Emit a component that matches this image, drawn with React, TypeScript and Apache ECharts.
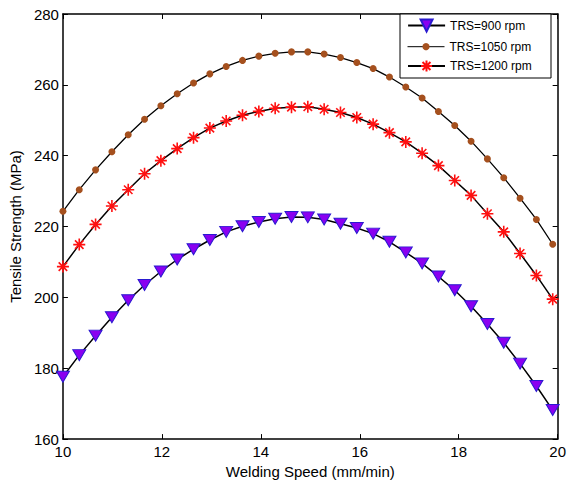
import React, { useEffect, useRef } from "react";
import * as echarts from "echarts";

const speeds = [10, 10.33, 10.66, 10.99, 11.32, 11.65, 11.98, 12.31, 12.64, 12.97, 13.3, 13.63, 13.96, 14.29, 14.62, 14.95, 15.28, 15.61, 15.94, 16.27, 16.6, 16.93, 17.26, 17.59, 17.92, 18.25, 18.58, 18.91, 19.24, 19.57, 19.9];

const trs900 = [177.6, 183.7, 189.2, 194.4, 199.2, 203.5, 207.3, 210.7, 213.6, 216.2, 218.5, 220.1, 221.3, 222.2, 222.7, 222.6, 222.0, 220.8, 219.6, 218.0, 215.7, 212.7, 209.6, 205.9, 202.0, 197.5, 192.5, 187.2, 181.3, 175.0, 168.2];
const trs1050 = [224.3, 230.4, 236.0, 241.1, 245.9, 250.3, 254.1, 257.5, 260.5, 263.1, 265.2, 266.9, 268.1, 268.9, 269.3, 269.3, 268.7, 267.7, 266.3, 264.6, 262.2, 259.4, 256.3, 252.5, 248.5, 244.1, 239.1, 233.8, 228.0, 222.0, 215.0];
const trs1200 = [208.7, 214.9, 220.6, 225.8, 230.4, 234.9, 238.6, 242.0, 245.1, 247.8, 249.8, 251.4, 252.5, 253.4, 253.7, 253.8, 253.1, 252.2, 250.8, 248.9, 246.5, 243.9, 240.7, 237.2, 233.0, 228.8, 223.6, 218.5, 212.4, 206.2, 199.5];

const seriesNames = ["TRS=900 rpm", "TRS=1050 rpm", "TRS=1200 rpm"];
const xTitle = "Welding Speed (mm/min)";
const yTitle = "Tensile Strength (MPa)";

const FONT = '"Liberation Sans", Arial, sans-serif';
const ASTERISK = "path://M0,-10L0,10M-10,0L10,0M-7.07,-7.07L7.07,7.07M-7.07,7.07L7.07,-7.07";

function pairs(vals: number[]) {
  return speeds.map((x, i) => [x, vals[i]]);
}

export default function App() {
  const ref = useRef<HTMLDivElement>(null);
  useEffect(() => {
    if (!ref.current) return;
    const chart = echarts.init(ref.current, undefined, { renderer: "svg" });
    const axisCommon = {
      type: "value" as const,
      axisLine: { show: true, lineStyle: { color: "#000", width: 1.5 } },
      axisTick: { show: true, inside: true, length: 5, lineStyle: { color: "#000", width: 1 } },
      splitLine: { show: false },
    };
    const legendCommon = {
      orient: "horizontal" as const,
      padding: 0,
      itemWidth: 37,
      itemGap: 0,
      textStyle: { fontSize: 12, fontFamily: FONT, color: "#000", lineHeight: 14 },
    };
    chart.setOption({
      animation: false,
      backgroundColor: "#fff",
      grid: { left: 57, right: 10, top: 14, bottom: 42, containLabel: false },
      xAxis: [
        {
          ...axisCommon,
          min: 10,
          max: 20,
          interval: 2,
          position: "bottom",
          name: xTitle,
          nameLocation: "middle",
          nameGap: 23,
          nameTextStyle: { fontSize: 15, fontFamily: FONT, color: "#000" },
          axisLabel: { fontSize: 15, fontFamily: FONT, color: "#000", margin: 5 },
        },
        {
          ...axisCommon,
          min: 10,
          max: 20,
          interval: 2,
          position: "top",
          axisLabel: { show: false },
        },
      ],
      yAxis: [
        {
          ...axisCommon,
          min: 160,
          max: 280,
          interval: 20,
          position: "left",
          name: yTitle,
          nameLocation: "middle",
          nameGap: 34,
          nameTextStyle: { fontSize: 15, fontFamily: FONT, color: "#000" },
          axisLabel: { fontSize: 15, fontFamily: FONT, color: "#000", margin: 4 },
        },
        {
          ...axisCommon,
          min: 160,
          max: 280,
          interval: 20,
          position: "right",
          axisLabel: { show: false },
        },
      ],
      graphic: [
        {
          type: "rect",
          shape: { x: 400, y: 14, width: 151, height: 64 },
          style: { fill: "#fff", stroke: "#000", lineWidth: 1 },
          z: 10,
        },
      ],
      legend: [
        { ...legendCommon, data: [seriesNames[0]], left: 407, top: 18.5, itemHeight: 15, lineStyle: { width: 2.2 }, z: 20 },
        { ...legendCommon, data: [seriesNames[1]], left: 407, top: 39.7, itemHeight: 9, lineStyle: { width: 1 }, z: 20 },
        { ...legendCommon, data: [seriesNames[2]], left: 407, top: 59, itemHeight: 14, lineStyle: { width: 2 }, z: 20 },
      ],
      series: [
        {
          name: seriesNames[0],
          type: "line",
          data: pairs(trs900),
          symbol: "triangle",
          symbolRotate: 180,
          symbolSize: [13, 11],
          lineStyle: { color: "#000", width: 1.5 },
          itemStyle: { color: "#8A00F0", borderColor: "#2A1AD0", borderWidth: 1 },
        },
        {
          name: seriesNames[1],
          type: "line",
          data: pairs(trs1050),
          symbol: "circle",
          symbolSize: 7,
          lineStyle: { color: "#000", width: 1.3 },
          itemStyle: { color: "#A5501E", borderColor: "#A5501E", borderWidth: 0 },
        },
        {
          name: seriesNames[2],
          type: "line",
          data: pairs(trs1200),
          symbol: ASTERISK,
          symbolSize: 12,
          lineStyle: { color: "#000", width: 1.5 },
          itemStyle: { color: "#FF1010", borderColor: "#FF1010", borderWidth: 1.6 },
        },
      ],
    });
    return () => chart.dispose();
  }, []);
  return (
    <div
      ref={ref}
      style={{ position: "fixed", left: 0, top: 0, width: 569, height: 484, background: "#fff" }}
    />
  );
}
